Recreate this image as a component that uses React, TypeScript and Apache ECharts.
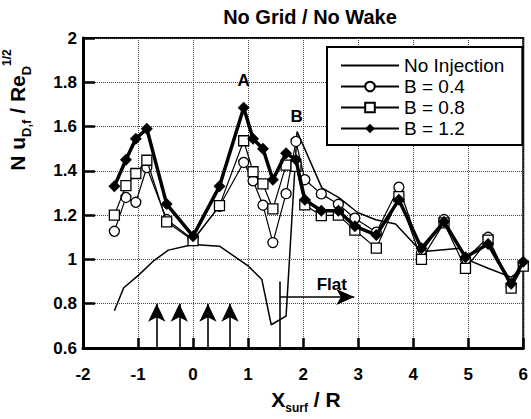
import React, { useEffect, useRef } from 'react';
import * as echarts from 'echarts';

// Measurement stations (X_surf / R) for the injected cases
const stationX = [-1.43, -1.22, -1.04, -0.84, -0.48, 0, 0.48, 0.92, 1.09, 1.27, 1.45, 1.69, 1.87, 2.03, 2.33, 2.64, 2.94, 3.33, 3.74, 4.15, 4.56, 4.95, 5.36, 5.78, 6.0];
const b04 = [1.127, 1.28, 1.258, 1.415, 1.18, 1.09, 1.24, 1.438, 1.355, 1.245, 1.076, 1.297, 1.533, 1.36, 1.296, 1.249, 1.186, 1.123, 1.326, 1.03, 1.18, 1.0, 1.1, 0.88, 0.98];
const b08 = [1.2, 1.333, 1.388, 1.448, 1.17, 1.085, 1.243, 1.536, 1.396, 1.341, 1.228, 1.426, 1.42, 1.246, 1.198, 1.2, 1.132, 1.051, 1.284, 1.0, 1.165, 0.96, 1.087, 0.87, 0.97];
const b12 = [1.33, 1.45, 1.545, 1.59, 1.25, 1.105, 1.33, 1.685, 1.545, 1.5, 1.36, 1.48, 1.45, 1.27, 1.22, 1.22, 1.15, 1.11, 1.27, 1.05, 1.17, 1.01, 1.07, 0.89, 0.99];

// No injection curve
const noInjX = [-1.43, -1.26, -0.99, -0.73, -0.45, 0.0, 0.48, 1.0, 1.25, 1.42, 1.69, 1.89, 2.34, 2.65, 2.99, 3.32, 3.68, 4.15, 4.85, 4.97, 5.36, 5.78, 6.0];
const noInjY = [0.768, 0.872, 0.929, 0.991, 1.042, 1.067, 1.06, 0.971, 0.909, 0.705, 0.744, 1.578, 1.323, 1.279, 1.212, 1.179, 1.16, 1.035, 1.05, 1.0, 0.96, 0.92, 0.96];

const seriesNames = ['No Injection', 'B = 0.4', 'B = 0.8', 'B = 1.2'];

// Annotations
const injectionArrowX = [-0.66, -0.25, 0.27, 0.67];
const injectionArrowY = [0.6, 0.8];
const flatLineX = 1.58;
const flatLineY = [0.6, 0.9];
const flatArrowY = 0.83;
const flatArrowEndX = 2.93;
const textLabels = [
  { name: 'A', x: 0.92, y: 1.81 },
  { name: 'B', x: 1.88, y: 1.645 },
  { name: 'Flat', x: 2.52, y: 0.885 },
];

const FONT = '"Liberation Sans", Arial, Helvetica, sans-serif';

const zip = (xs: number[], ys: number[]) => xs.map((x, i) => [x, ys[i]]);

export default function App() {
  const ref = useRef<HTMLDivElement>(null);
  useEffect(() => {
    document.body.style.margin = '0';
    if (!ref.current) return;
    const chart = echarts.init(ref.current, undefined, { renderer: 'svg' });

    const markLineData: any[] = injectionArrowX.map((x) => [
      { coord: [x, injectionArrowY[0]], symbol: 'none' },
      { coord: [x, injectionArrowY[1]], symbol: 'arrow', symbolSize: [13, 18] },
    ]);
    markLineData.push([
      { coord: [flatLineX, flatLineY[0]], symbol: 'none' },
      { coord: [flatLineX, flatLineY[1]], symbol: 'none' },
    ]);
    markLineData.push([
      { coord: [flatLineX, flatArrowY], symbol: 'none' },
      { coord: [flatArrowEndX, flatArrowY], symbol: 'arrow', symbolSize: [12, 18] },
    ]);

    const option: any = {
      animation: false,
      backgroundColor: '#fff',
      textStyle: { fontFamily: FONT },
      grid: { left: 83, right: 4, top: 38, bottom: 71, show: true, borderColor: '#000', borderWidth: 2 },
      legend: {
        data: [
          { name: 'No Injection', itemStyle: { opacity: 0 } },
          { name: 'B = 0.4' },
          { name: 'B = 0.8' },
          { name: 'B = 1.2' },
        ],
        orient: 'vertical',
        left: 327,
        top: 47,
        itemWidth: 58,
        itemHeight: 12,
        itemGap: 2,
        padding: [9, 18, 7, 13],
        backgroundColor: '#fff',
        borderColor: '#000',
        borderWidth: 2,
        textStyle: { fontSize: 19, color: '#000', fontFamily: FONT, lineHeight: 18 },
      },
      xAxis: {
        type: 'value',
        min: -2,
        max: 6,
        interval: 1,
        axisLine: { onZero: false, lineStyle: { color: '#000', width: 3 } },
        axisTick: { inside: true, length: 10, lineStyle: { color: '#000', width: 2.5 } },
        splitLine: { show: true, lineStyle: { type: 'dotted', color: '#444', width: 1 } },
        axisLabel: { fontSize: 17, fontWeight: 'bold', color: '#000', margin: 18, fontFamily: FONT },
      },
      yAxis: {
        type: 'value',
        min: 0.6,
        max: 2,
        interval: 0.2,
        axisLine: { onZero: false, lineStyle: { color: '#000', width: 3 } },
        axisTick: { inside: true, length: 12, lineStyle: { color: '#000', width: 2.5 } },
        splitLine: { show: true, lineStyle: { type: 'dotted', color: '#444', width: 1 } },
        axisLabel: {
          fontSize: 17,
          fontWeight: 'bold',
          color: '#000',
          margin: 6,
          fontFamily: FONT,
          formatter: (v: number) => {
            const r = Math.round(v * 10) / 10;
            return Number.isInteger(r) ? String(r) : r.toFixed(1);
          },
        },
      },
      graphic: [
        {
          type: 'text',
          x: 310,
          y: 17,
          style: {
            text: 'No Grid / No Wake',
            font: `bold 20px ${FONT}`,
            fill: '#000',
            align: 'center',
            verticalAlign: 'middle',
          },
        },
        {
          type: 'text',
          x: 17,
          y: 110,
          rotation: Math.PI / 2,
          style: {
            text: '{a|N u}{b|D,f}{a| / Re}{b|D}{c|1/2}',
            align: 'center',
            verticalAlign: 'middle',
            fill: '#000',
            rich: {
              a: { fontSize: 21, fontWeight: 'bold', fontFamily: FONT, lineHeight: 32, verticalAlign: 'middle' },
              b: { fontSize: 13, fontWeight: 'bold', fontFamily: FONT, verticalAlign: 'bottom' },
              c: { fontSize: 12, fontWeight: 'bold', fontFamily: FONT, verticalAlign: 'top' },
            },
          },
        },
        {
          type: 'text',
          x: 306,
          y: 399,
          style: {
            text: '{a|X}{b|surf}{a| / R}',
            align: 'center',
            verticalAlign: 'middle',
            fill: '#000',
            rich: {
              a: { fontSize: 21, fontWeight: 'bold', fontFamily: FONT, lineHeight: 30, verticalAlign: 'middle' },
              b: { fontSize: 12, fontWeight: 'bold', fontFamily: FONT, verticalAlign: 'bottom' },
            },
          },
        },
      ],
      series: [
        {
          name: 'No Injection',
          type: 'line',
          data: zip(noInjX, noInjY),
          symbol: 'none',
          lineStyle: { color: '#000', width: 1.5 },
          itemStyle: { color: '#000' },
          z: 2,
          markLine: {
            silent: true,
            animation: false,
            label: { show: false },
            lineStyle: { color: '#000', width: 1.6, type: 'solid' },
            emphasis: { disabled: true },
            data: markLineData,
          },
        },
        {
          name: 'B = 0.4',
          type: 'line',
          data: zip(stationX, b04),
          symbol: 'circle',
          symbolSize: 10,
          lineStyle: { color: '#000', width: 1.2 },
          itemStyle: { color: '#fff', borderColor: '#000', borderWidth: 1.3 },
          z: 3,
        },
        {
          name: 'B = 0.8',
          type: 'line',
          data: zip(stationX, b08),
          symbol: 'rect',
          symbolSize: 10,
          lineStyle: { color: '#000', width: 1.2 },
          itemStyle: { color: '#fff', borderColor: '#000', borderWidth: 1.3 },
          z: 4,
        },
        {
          name: 'B = 1.2',
          type: 'line',
          data: zip(stationX, b12),
          symbol: 'diamond',
          symbolSize: 12,
          lineStyle: { color: '#000', width: 3.5 },
          itemStyle: { color: '#000' },
          z: 5,
        },
        {
          name: 'annotations',
          type: 'scatter',
          data: textLabels.map((d) => ({ name: d.name, value: [d.x, d.y] })),
          symbolSize: 1,
          itemStyle: { color: 'rgba(0,0,0,0)' },
          silent: true,
          z: 6,
          label: {
            show: true,
            position: 'inside',
            formatter: '{b}',
            color: '#000',
            opacity: 1,
            textBorderWidth: 0,
            fontFamily: FONT,
            fontSize: 17,
            fontWeight: 'bold',
          },
        },
      ],
    };
    chart.setOption(option);
    return () => chart.dispose();
  }, []);
  return <div ref={ref} style={{ width: 531, height: 419 }} />;
}
